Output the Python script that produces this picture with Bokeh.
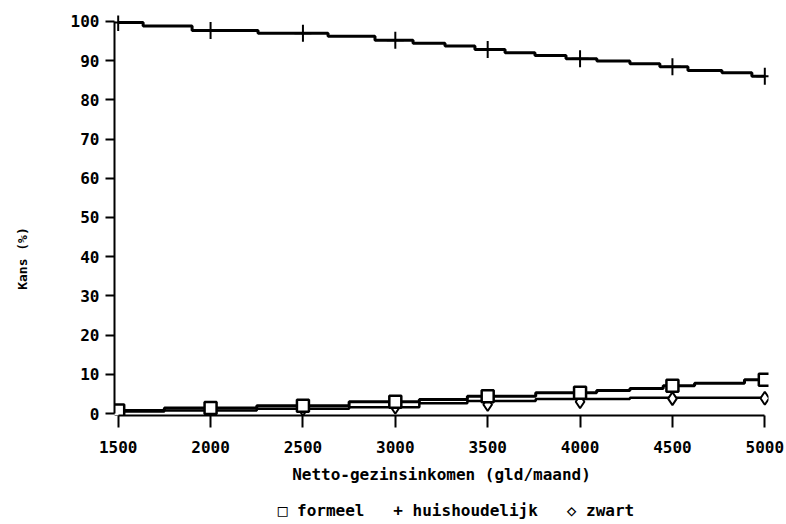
import math
from bokeh.plotting import figure
from bokeh.models import Range1d, FixedTicker, LinearAxis
from bokeh.embed import file_html
from bokeh.resources import INLINE

# ---- data ----
income_ticks = [1500, 2000, 2500, 3000, 3500, 4000, 4500, 5000]
kans_ticks = [0, 10, 20, 30, 40, 50, 60, 70, 80, 90, 100]
series_names = ["formeel", "huishoudelijk", "zwart"]
series_symbols = ["\u25a1", "+", "\u25c7"]

# values at the marked incomes
formeel_pts = [0.8, 1.4, 2.0, 3.0, 4.4, 5.3, 7.1, 8.6]
huish_pts = [99.7, 97.7, 97.0, 95.2, 92.8, 90.5, 88.4, 86.0]
zwart_pts = [0.4, 0.8, 1.1, 1.6, 2.3, 3.0, 3.8, 3.9]

# step lines (income where each level starts, level)
huish_step_x = [1500, 1635, 1900, 2257, 2636, 2890, 3096, 3269, 3431, 3594,
                3756, 3924, 4091, 4270, 4432, 4584, 4768, 4930, 5000]
huish_step_y = [99.7, 98.8, 97.7, 97.0, 96.2, 95.2, 94.4, 93.7, 92.8, 92.0,
                91.3, 90.5, 89.9, 89.2, 88.4, 87.5, 86.9, 86.0, 86.0]
formeel_step_x = [1500, 1750, 2250, 2750, 3130, 3390, 3760, 4090, 4270, 4450,
                  4620, 4890, 5000]
formeel_step_y = [0.8, 1.4, 2.0, 3.0, 3.6, 4.4, 5.3, 5.9, 6.4, 7.1, 7.7, 8.6, 8.6]
zwart_step_x = [1500, 1750, 2250, 2750, 3130, 3390, 3760, 4270, 5000]
zwart_step_y = [0.5, 0.8, 1.2, 1.6, 2.6, 3.2, 3.7, 4.0, 4.0]

FONT = "DejaVu Sans Mono"
NB = "\u00a0"

p = figure(width=786, height=524,
           x_range=Range1d(1480, 5020), y_range=Range1d(-0.5, 101.5),
           output_backend="svg", toolbar_location=None,
           min_border_left=114, min_border_right=18,
           min_border_top=15, min_border_bottom=109)
p.outline_line_color = None
p.xgrid.visible = False
p.ygrid.visible = False
p.background_fill_color = "white"
p.border_fill_color = "white"

# step lines
p.step(huish_step_x, huish_step_y, mode="after", line_color="black", line_width=3)
p.step(formeel_step_x, formeel_step_y, mode="after", line_color="black", line_width=3)
p.step(zwart_step_x, zwart_step_y, mode="after", line_color="black", line_width=2.5)

# markers
p.scatter(income_ticks, zwart_pts, marker="diamond", size=13,
          fill_color="white", line_color="black", line_width=2)
p.scatter(income_ticks, formeel_pts, marker="square", size=12,
          fill_color="white", line_color="black", line_width=2.5)
p.scatter(income_ticks, huish_pts, marker="cross", size=17,
          line_color="black", line_width=2)


def bare_axis(axis):
    axis.ticker = FixedTicker(ticks=[])
    axis.axis_line_color = None
    axis.major_tick_out = 0
    axis.major_tick_in = 0
    axis.minor_tick_out = 0
    axis.minor_tick_in = 0
    axis.major_label_standoff = 0
    axis.axis_label_text_font = FONT
    axis.axis_label_text_font_style = "bold"
    axis.axis_label_text_color = "black"


# x axis
xa = p.xaxis[0]
xa.ticker = FixedTicker(ticks=income_ticks)
xa.bounds = (1500, 5000)
xa.axis_line_width = 2
xa.major_tick_line_width = 2
xa.major_tick_out = 12
xa.major_tick_in = 0
xa.minor_tick_out = 0
xa.minor_tick_in = 0
xa.major_label_standoff = 13
xa.major_label_text_font = FONT
xa.major_label_text_font_style = "bold"
xa.major_label_text_font_size = "16px"
xa.major_label_text_color = "black"
xa.axis_label = "Netto-gezinsinkomen (gld/maand)"
xa.axis_label_text_font = FONT
xa.axis_label_text_font_style = "bold"
xa.axis_label_text_font_size = "16px"
xa.axis_label_text_color = "black"
xa.axis_label_standoff = 9

# legend line, written as text below the axis title
gap = NB * 3
legend_text = NB * 3 + gap.join(s + NB + n for s, n in zip(series_symbols, series_names))
la = LinearAxis()
bare_axis(la)
la.axis_label = legend_text
la.axis_label_text_font_size = "16px"
la.axis_label_standoff = 14
p.add_layout(la, "below")

# y axis
ya = p.yaxis[0]
ya.ticker = FixedTicker(ticks=kans_ticks)
ya.bounds = (0, 100)
ya.axis_line_width = 2
ya.major_tick_line_width = 2
ya.major_tick_out = 9
ya.major_tick_in = 0
ya.minor_tick_out = 0
ya.minor_tick_in = 0
ya.major_label_standoff = 6
ya.major_label_text_font = FONT
ya.major_label_text_font_style = "bold"
ya.major_label_text_font_size = "16px"
ya.major_label_text_color = "black"

# y axis title, shifted lower (as in the reference) by trailing spaces
ta = LinearAxis()
bare_axis(ta)
ta.axis_label = "Kans" + NB + "(%)" + NB * 11
ta.axis_label_text_font_size = "13px"
ta.axis_label_standoff = 38
p.add_layout(ta, "left")

open("out.html", "w").write(file_html(p, INLINE))
